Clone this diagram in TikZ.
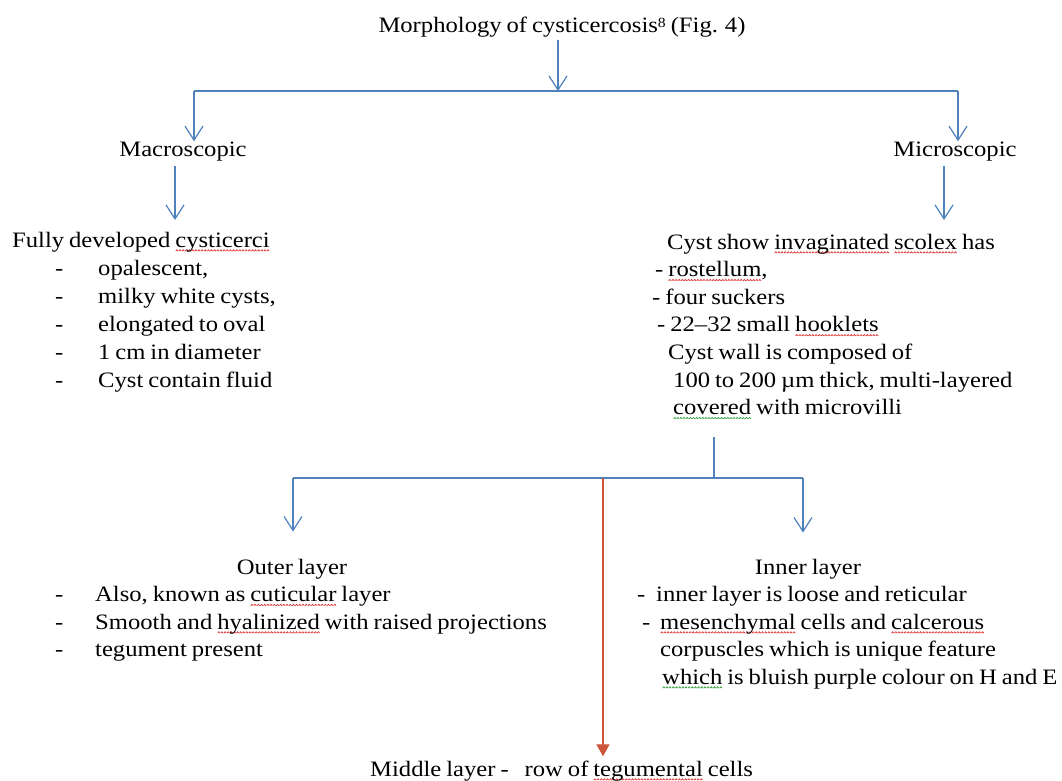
\documentclass[tikz,border=0pt]{standalone}
\usepackage{fontspec}
\setmainfont{Liberation Serif}[FakeStretch=1.12,WordSpace=0.8]
\usetikzlibrary{arrows.meta}
\definecolor{lineblue}{RGB}{79,129,189}
\definecolor{linered}{RGB}{205,85,60}
\definecolor{wavered}{RGB}{225,50,50}
\definecolor{wavegreen}{RGB}{50,160,60}
\newsavebox\wavebox
\newcommand\wavy[2]{\sbox\wavebox{#2}\rlap{\raisebox{-4.5pt}{\hbox to \wd\wavebox{\color{#1}\xleaders\hbox{\tikz[x=1pt,y=1pt]\draw[line width=0.7pt,#1] (0,0)--(1.2,1.4)--(2.4,0);}\hfill}}}#2}
\newcommand\rw[1]{\wavy{wavered}{#1}}
\newcommand\gw[1]{\wavy{wavegreen}{#1}}
\begin{document}
\begin{tikzpicture}[x=1pt,y=-1pt,
  every node/.style={font=\fontsize{22}{27}\selectfont, text=black},
  txt/.style={anchor=base west,inner sep=0pt},
  ctxt/.style={anchor=base,inner sep=0pt},
  ln/.style={draw=lineblue,line width=1.3pt},
  arr/.style={draw=lineblue,line width=1.3pt,-{Straight Barb[length=14pt,width=18pt,line width=1.2pt]}},
  redarr/.style={draw=linered,line width=1.3pt,-{Triangle[length=12pt,width=13pt]}}]
\fill[white] (0,0) rectangle (1062,780);
\useasboundingbox (0,0) rectangle (1062,780);

% top level
\node[ctxt] (title) at (562,32) {Morphology of cysticercosis\raisebox{5pt}{\fontsize{14}{14}\selectfont 8} (Fig. 4)};
\coordinate (bt) at (558,91);
\coordinate (bl) at (194,91);
\coordinate (br) at (958,91);
\draw[ln] (bl) -- (br);
\draw[arr, shorten <=3pt] (title.south -| bt) -- (bt);

\node[ctxt] (macro) at (183,156) {Macroscopic};
\node[ctxt] (micro) at (955,156) {Microscopic};
\draw[arr] (bl) -- (bl |- macro.north);
\draw[arr] (br) -- (br |- micro.north);

\coordinate (ma) at (175,220);
\coordinate (mi) at (944,220);
\draw[arr, shorten <=5pt] (macro.south -| ma) -- (ma);
\draw[arr, shorten <=5pt] (micro.south -| mi) -- (mi);

% left column
\node[txt] (fully) at (12,247) {Fully developed \rw{cysticerci}};
\node[txt] (l1) at (55,275) {\makebox[43pt][l]{-}opalescent,};
\node[txt] (l2) at (55,303) {\makebox[43pt][l]{-}milky white cysts,};
\node[txt] (l3) at (55,331) {\makebox[43pt][l]{-}elongated to oval};
\node[txt] (l4) at (55,359) {\makebox[43pt][l]{-}1 cm in diameter};
\node[txt] (l5) at (55,387) {\makebox[43pt][l]{-}Cyst contain fluid};

% right column
\node[txt] (r0) at (667,249) {Cyst show \rw{invaginated} \rw{scolex} has};
\node[txt] (r1) at (655,276.6) {- \rw{rostellum},};
\node[txt] (r2) at (652,304.2) {- four suckers};
\node[txt] (r3) at (657,331.8) {- 22–32 small \rw{hooklets}};
\node[txt] (r4) at (668,359.4) {Cyst wall is composed of};
\node[txt] (r5) at (673,387) {100 to 200 µm thick, multi-layered};
\node[txt] (r6) at (673,414.6) {\gw{covered} with microvilli};

% second split
\coordinate (bj) at (714,478);
\coordinate (b2l) at (293,478);
\coordinate (b2r) at (803,478);
\coordinate (b2m) at (603,478);
\draw[ln, shorten <=18pt] (r6.south -| bj) -- (bj);
\draw[ln] (b2l) -- (b2r);

\node[ctxt] (outer) at (292,574) {Outer layer};
\node[txt] (o1) at (55,601.5) {\makebox[40pt][l]{-}Also, known as \rw{cuticular} layer};
\node[txt] (o2) at (55,629) {\makebox[40pt][l]{-}Smooth and \rw{hyalinized} with raised projections};
\node[txt] (o3) at (55,656.5) {\makebox[40pt][l]{-}tegument present};

\node[ctxt] (inner) at (808,574) {Inner layer};
\node[txt] (i1) at (637,601.5) {\makebox[19pt][l]{-}inner layer is loose and reticular};
\node[txt] (i2) at (642,629) {\makebox[18pt][l]{-}\rw{mesenchymal} cells and \rw{calcerous}};
\node[txt] (i3) at (660,656.5) {corpuscles which is unique feature};
\node[txt] (i4) at (662,684) {\gw{which} is bluish purple colour on H and E};

\node[txt] (middle) at (370,776) {Middle layer -\hspace{16pt}row of \rw{tegumental} cells};

\draw[arr, shorten >=27pt] (b2l) -- (b2l |- outer.north);
\draw[arr, shorten >=26pt] (b2r) -- (b2r |- inner.north);
\draw[redarr, shorten >=4pt] (b2m) -- (b2m |- middle.north);
\end{tikzpicture}
\end{document}
